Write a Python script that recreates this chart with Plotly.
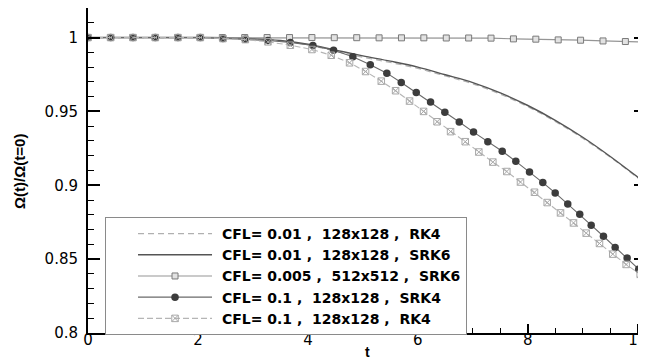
import plotly.graph_objects as go

# ---- data ----
cfl_values = ["0.01", "0.01", "0.005", "0.1", "0.1"]
grids = ["128x128", "128x128", "512x512", "128x128", "128x128"]
schemes = ["RK4", "SRK6", "SRK6", "SRK4", "RK4"]
x_title = "t"
y_title = "Ω(t)/Ω(t=0)"

t_smooth = [0, 1, 2, 2.5, 3, 3.5, 4, 4.5, 5, 5.5, 6, 6.5, 7, 7.5, 8, 8.5, 9, 9.5, 10, 10.15]
y_srk6_001 = [1.0, 1.0, 1.0, 0.9999, 0.9993, 0.998, 0.9955, 0.9915, 0.9876, 0.984, 0.98,
              0.9748, 0.9695, 0.9625, 0.954, 0.944, 0.9325, 0.9195, 0.9055, 0.9012]
y_rk4_001 = [1.0, 1.0, 1.0, 0.9999, 0.9992, 0.9978, 0.9951, 0.9907, 0.9867, 0.9831, 0.9791,
             0.974, 0.9687, 0.9617, 0.9532, 0.9432, 0.9318, 0.919, 0.9051, 0.901]

t_fine = [0, 0.407, 0.815, 1.222, 1.629, 2.037, 2.444, 2.851, 3.258, 3.666, 4.073, 4.48,
          4.888, 5.295, 5.702, 6.109, 6.517, 6.924, 7.331, 7.739, 8.146, 8.553, 8.96,
          9.368, 9.775, 10.15]
y_srk6_0005 = [1.0, 1.0, 1.0, 1.0, 1.0, 1.0, 1.0, 1.0, 1.0, 1.0, 1.0, 0.9999, 0.9999,
               0.9998, 0.9998, 0.9998, 0.9997, 0.9997, 0.9996, 0.9991, 0.9989, 0.9984,
               0.9982, 0.9977, 0.9973, 0.9969]

t_srk4_01 = [0, 0.413, 0.818, 1.225, 1.636, 2.044, 2.455, 2.862, 3.273, 3.68, 4.091, 4.467,
             4.818, 5.135, 5.436, 5.698, 5.971, 6.231, 6.491, 6.753, 7.013, 7.273, 7.535,
             7.782, 8.031, 8.273, 8.498, 8.727, 8.945, 9.153, 9.376, 9.589, 9.807, 10.018,
             10.15]
y_srk4_01 = [1.0, 1.0, 1.0, 1.0, 1.0, 1.0, 0.9994, 0.9989, 0.998, 0.9966, 0.9946, 0.9914,
             0.987, 0.9816, 0.9759, 0.9696, 0.9628, 0.9563, 0.9495, 0.9428, 0.936, 0.9295,
             0.923, 0.9162, 0.909, 0.9018, 0.8948, 0.8874, 0.8804, 0.873, 0.8655, 0.8579,
             0.8507, 0.8432, 0.8392]

t_rk4_01 = [0, 0.413, 0.818, 1.225, 1.636, 2.044, 2.455, 2.862, 3.273, 3.68, 4.073, 4.425,
            4.758, 5.049, 5.335, 5.595, 5.849, 6.104, 6.349, 6.595, 6.862, 7.109, 7.364,
            7.618, 7.867, 8.122, 8.353, 8.595, 8.831, 9.062, 9.304, 9.545, 9.789, 10.044,
            10.15]
y_rk4_01 = [1.0, 1.0, 1.0, 1.0, 1.0, 1.0, 0.9993, 0.9986, 0.9971, 0.9948, 0.9919, 0.988,
            0.9829, 0.977, 0.9705, 0.964, 0.957, 0.95, 0.943, 0.9363, 0.9295, 0.9225,
            0.9157, 0.9093, 0.9022, 0.8953, 0.8883, 0.8813, 0.8745, 0.8676, 0.8606, 0.8534,
            0.8464, 0.8397, 0.8369]

x_ticks = [0, 2, 4, 6, 8, 10]
y_ticks = [0.8, 0.85, 0.9, 0.95, 1.0]
y_ticklabels = ["0.8", "0.85", "0.9", "0.95", "1"]

# ---- figure ----
NB = "\u00a0"
labels = [NB + "CFL=" + NB + c + NB + "," + NB * 2 + g + NB + "," + NB * 2 + s
          for c, g, s in zip(cfl_values, grids, schemes)]

FONT = "Liberation Sans, Arial, sans-serif"
WIDE = "DejaVu Sans, Verdana, sans-serif"
fig = go.Figure()
fig.add_trace(go.Scatter(x=t_smooth, y=y_rk4_001, mode="lines", name=labels[0],
                         line=dict(color="#b0b0b0", width=1.2, dash="6px,4px", shape="spline")))
fig.add_trace(go.Scatter(x=t_smooth, y=y_srk6_001, mode="lines", name=labels[1],
                         line=dict(color="#555555", width=1.4, shape="spline")))
fig.add_trace(go.Scatter(x=t_fine, y=y_srk6_0005, mode="lines+markers", name=labels[2],
                         line=dict(color="#959595", width=1.2),
                         marker=dict(symbol="square", size=6, color="#e2e2e2",
                                     line=dict(color="#7a7a7a", width=1))))
fig.add_trace(go.Scatter(x=t_srk4_01, y=y_srk4_01, mode="lines+markers", name=labels[3],
                         line=dict(color="#6a6a6a", width=1.1),
                         marker=dict(symbol="circle", size=7.5, color="#3c3c3c",
                                     line=dict(width=0))))
fig.add_trace(go.Scatter(x=t_rk4_01, y=y_rk4_01, mode="lines+markers", name=labels[4],
                         line=dict(color="#b5b5b5", width=1.1, dash="6px,3px"),
                         marker=dict(symbol="square-x-open", size=6.5, color="#a8a8a8",
                                     line=dict(width=1))))

axis_font = dict(family=WIDE, size=15, color="black")

# page body has an 8px default margin: figure sized/margined to compensate
fig.update_layout(
    width=638, height=352,
    margin=dict(l=80, r=0, t=0, b=27, autoexpand=False),
    plot_bgcolor="white", paper_bgcolor="white",
    showlegend=True,
    legend=dict(
        x=0.0305, y=0.357, xanchor="left", yanchor="top",
        bgcolor="white", bordercolor="#8a8a8a", borderwidth=1,
        font=dict(family=WIDE, size=14, color="black", weight="bold"),
        itemwidth=74, tracegroupgap=0, indentation=27, entrywidth=435,
    ),
    xaxis=dict(
        range=[0, 10.15], tickvals=x_ticks, ticktext=[str(v) for v in x_ticks],
        ticks="inside", ticklen=9, tickwidth=2, tickcolor="black",
        showline=True, linecolor="black", linewidth=2, mirror=True,
        showgrid=False, zeroline=False, tickfont=axis_font, automargin=False,
        ticklabelstandoff=-8, ticklabeloverflow="allow",
        minor=dict(dtick=0.5, ticks="inside", ticklen=5, tickwidth=1, tickcolor="black",
                   showgrid=False),
    ),
    yaxis=dict(
        range=[0.8, 1.02], tickvals=y_ticks, ticktext=y_ticklabels,
        ticks="inside", ticklen=12, tickwidth=2, tickcolor="black",
        showline=True, linecolor="black", linewidth=2, mirror="ticks",
        showgrid=False, zeroline=False, tickfont=axis_font, automargin=False,
        ticklabelstandoff=5, ticklabeloverflow="allow",
        minor=dict(dtick=0.01, ticks="inside", ticklen=6, tickwidth=1, tickcolor="black",
                   showgrid=False),
    ),
    annotations=[
        dict(text="<b>" + x_title + "</b>", xref="paper", yref="paper", x=0.5, y=-0.058,
             xanchor="center", yanchor="middle", showarrow=False,
             font=dict(family=FONT, size=14, color="black")),
        dict(text="<b>" + y_title + "</b>", xref="paper", yref="paper", x=-0.122, y=0.4985,
             xanchor="center", yanchor="middle", showarrow=False, textangle=-90,
             font=dict(family=FONT, size=15, color="black")),
    ],
)

fig.write_html("out.html")
